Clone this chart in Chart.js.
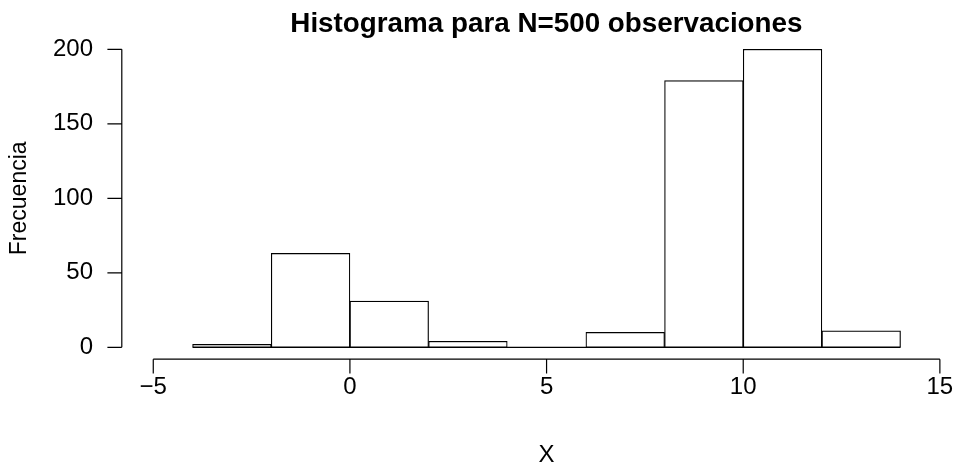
<!DOCTYPE html>
<html>
<head>
<meta charset="utf-8">
<script src="https://cdn.jsdelivr.net/npm/chart.js@4"></script>
<style>
  html, body { margin: 0; padding: 0; background: #fff; overflow: hidden; }
  canvas { display: block; }
</style>
</head>
<body>
<canvas id="histChart" width="956" height="470"></canvas>
<script>
// histogram bins (width 2) and their counts
const breaks = [-4, -2, 0, 2, 4, 6, 8, 10, 12, 14];
const counts = [2, 63, 31, 4, 0, 10, 179, 200, 11];
const xTicks = [-5, 0, 5, 10, 15];
const yTicks = [0, 50, 100, 150, 200];

const titleText = "Histograma para N=500 observaciones";
const xLabel = "X";
const yLabel = "Frecuencia";

const barData = counts.map(function (c, i) {
  return { x: (breaks[i] + breaks[i + 1]) / 2, y: c };
});
const baseLine = [
  { x: breaks[0], y: 0 },
  { x: breaks[breaks.length - 1], y: 0 }
];

const fontFamily = "'Liberation Sans', Arial, Helvetica, sans-serif";

// R-style detached axes, titles
const rAxes = {
  id: "rAxes",
  afterDraw: function (chart) {
    const ctx = chart.ctx;
    const xs = chart.scales.x;
    const ys = chart.scales.y;
    const area = chart.chartArea;
    const tick = 14.4;
    const plotCenter = (area.left + 971) / 2;

    ctx.save();
    ctx.strokeStyle = "#000";
    ctx.fillStyle = "#000";
    ctx.lineWidth = 1.2;

    // x axis
    const xAxisY = area.bottom;
    ctx.beginPath();
    ctx.moveTo(xs.getPixelForValue(xTicks[0]), xAxisY);
    ctx.lineTo(xs.getPixelForValue(xTicks[xTicks.length - 1]), xAxisY);
    xTicks.forEach(function (t) {
      const px = xs.getPixelForValue(t);
      ctx.moveTo(px, xAxisY);
      ctx.lineTo(px, xAxisY + tick);
    });
    ctx.stroke();

    // y axis
    const yAxisX = area.left;
    ctx.beginPath();
    ctx.moveTo(yAxisX, ys.getPixelForValue(yTicks[0]));
    ctx.lineTo(yAxisX, ys.getPixelForValue(yTicks[yTicks.length - 1]));
    yTicks.forEach(function (t) {
      const py = ys.getPixelForValue(t);
      ctx.moveTo(yAxisX, py);
      ctx.lineTo(yAxisX - tick, py);
    });
    ctx.stroke();

    ctx.font = "24px " + fontFamily;
    ctx.textAlign = "center";
    ctx.textBaseline = "middle";
    xTicks.forEach(function (t) {
      const lbl = t < 0 ? "\u2212" + Math.abs(t) : String(t);
      ctx.fillText(lbl, xs.getPixelForValue(t), 387);
    });

    ctx.textAlign = "right";
    yTicks.forEach(function (t) {
      ctx.fillText(String(t), yAxisX - 28.8, ys.getPixelForValue(t));
    });

    // axis titles
    ctx.textAlign = "center";
    ctx.fillText(xLabel, plotCenter, 455);

    ctx.save();
    ctx.font = "23px " + fontFamily;
    ctx.translate(20, (area.top + area.bottom) / 2);
    ctx.rotate(-Math.PI / 2);
    ctx.fillText(yLabel, 0, 0);
    ctx.restore();

    // main title
    ctx.font = "bold 27.8px " + fontFamily;
    ctx.textBaseline = "alphabetic";
    ctx.fillText(titleText, plotCenter, 32);

    ctx.restore();
  }
};

new Chart(document.getElementById("histChart"), {
  type: "bar",
  data: {
    datasets: [
      {
        type: "line",
        data: baseLine,
        borderColor: "#000",
        borderWidth: 1.2,
        pointRadius: 0,
        fill: false,
        order: 2
      },
      {
        type: "bar",
        data: barData,
        backgroundColor: "#fff",
        borderColor: "#000",
        borderWidth: 1.2,
        borderSkipped: false,
        barPercentage: 1,
        categoryPercentage: 1,
        order: 1
      }
    ]
  },
  options: {
    responsive: false,
    animation: false,
    devicePixelRatio: 1,
    layout: {
      padding: { left: 121.8, right: 0, top: 37.4, bottom: 110.8 }
    },
    plugins: {
      legend: { display: false },
      title: { display: false },
      tooltip: { enabled: false }
    },
    scales: {
      x: {
        type: "linear",
        display: false,
        offset: false,
        min: -5.8,
        max: 15.41
      },
      y: {
        type: "linear",
        display: false,
        min: -8,
        max: 208
      }
    }
  },
  plugins: [rAxes]
});
</script>
</body>
</html>
